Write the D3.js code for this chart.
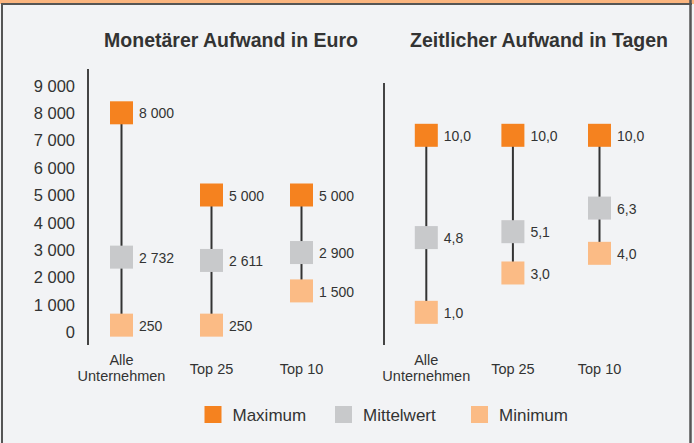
<!DOCTYPE html>
<html>
<head>
<meta charset="utf-8">
<script src="https://cdn.jsdelivr.net/npm/d3@7"></script>
<style>
  html, body { margin: 0; padding: 0; background: #f2f3f5; }
  svg { display: block; }
  text { font-family: "Liberation Sans", Arial, sans-serif; fill: #333; }
</style>
</head>
<body>
<svg id="chart" width="694" height="443"></svg>
<script>
// Daten
const categories = ['Alle Unternehmen', 'Top 25', 'Top 10']
const euroMax = [8000, 5000, 5000]
const euroMean = [2732, 2611, 2900]
const euroMin = [250, 250, 1500]
const daysMax = [10, 10, 10]
const daysMean = [4.8, 5.1, 6.3]
const daysMin = [1.0, 3.0, 4.0]
const euroTicks = [0, 1000, 2000, 3000, 4000, 5000, 6000, 7000, 8000, 9000]
const seriesNames = ['Maximum', 'Mittelwert', 'Minimum']
const seriesColors = ['#f5821f', '#c8c9cb', '#fbbb85']

const de = d3.formatLocale({ decimal: ',', thousands: '\u00a0', grouping: [3], currency: ['', ' €'] })
const fmtEuro = de.format(',d')
const fmtDays = de.format('.1f')

const svg = d3.select('#chart')
const W = 694, H = 443

// Rahmen
svg.append('rect').attr('width', W).attr('height', H).attr('fill', '#f2f3f5')
svg.append('rect').attr('x', 0).attr('y', 0).attr('width', W).attr('height', 4).attr('fill', '#fbb57f')
svg.append('line').attr('x1', 1).attr('x2', 692).attr('y1', 4).attr('y2', 4)
  .attr('stroke', '#555').attr('stroke-width', 2)
svg.append('line').attr('x1', 2).attr('x2', 2).attr('y1', 4).attr('y2', H)
  .attr('stroke', '#555').attr('stroke-width', 2)
svg.append('line').attr('x1', 690.5).attr('x2', 690.5).attr('y1', 0).attr('y2', H)
  .attr('stroke', '#555').attr('stroke-width', 2.5)

const yEuro = d3.scaleLinear().domain([0, 9000]).range([332, 85.4])
const yDays = d3.scaleLinear().domain([0, 10]).range([332, 135.3])
const xEuro = d3.scalePoint().domain(categories).range([121.5, 301.5])
const xDays = d3.scalePoint().domain(categories).range([426.3, 599.5])

const SQ = 23

function drawPanel(cfg) {
  const g = svg.append('g')

  g.append('text')
    .attr('x', cfg.titleX).attr('y', 47)
    .attr('text-anchor', 'middle')
    .style('font-size', '19.5px').style('font-weight', 'bold')
    .text(cfg.title)

  g.append('line')
    .attr('x1', cfg.axisX).attr('x2', cfg.axisX)
    .attr('y1', cfg.axisTop).attr('y2', 345)
    .attr('stroke', '#444').attr('stroke-width', 2)

  if (cfg.ticks) {
    const axis = d3.axisLeft(cfg.y).tickValues(cfg.ticks).tickFormat(fmtEuro)
      .tickSizeInner(0).tickSizeOuter(0).tickPadding(0)
    const ag = g.append('g').attr('transform', `translate(75,0)`).call(axis)
    ag.select('.domain').remove()
    ag.selectAll('text')
      .attr('dy', '0.35em')
      .style('font-family', '"Liberation Sans", Arial, sans-serif')
      .style('font-size', '16.5px').attr('fill', '#333')
  }

  const rows = categories.map((c, i) => ({
    cat: c,
    vals: [cfg.max[i], cfg.mean[i], cfg.min[i]],
  }))

  const grp = g.selectAll('g.cat').data(rows).enter().append('g').attr('class', 'cat')

  grp.append('line')
    .attr('x1', d => cfg.x(d.cat)).attr('x2', d => cfg.x(d.cat))
    .attr('y1', d => cfg.y(d.vals[0])).attr('y2', d => cfg.y(d.vals[2]))
    .attr('stroke', '#333').attr('stroke-width', 2)

  const pts = grp.selectAll('g.pt')
    .data(d => d.vals.map((v, k) => ({ cat: d.cat, v, k })))
    .enter().append('g').attr('class', 'pt')

  pts.append('rect')
    .attr('x', d => cfg.x(d.cat) - SQ / 2)
    .attr('y', d => cfg.y(d.v) - SQ / 2)
    .attr('width', SQ).attr('height', SQ)
    .attr('fill', d => seriesColors[d.k])

  pts.append('text')
    .attr('x', d => cfg.x(d.cat) + SQ / 2 + 6)
    .attr('y', d => cfg.y(d.v))
    .attr('dy', '0.4em')
    .style('font-size', '14px')
    .text(d => cfg.fmt(d.v))

  const lab = g.selectAll('text.cat').data(categories).enter().append('text')
    .attr('class', 'cat')
    .attr('text-anchor', 'middle')
    .style('font-size', '14.5px')
  lab.each(function (c) {
    const words = c === 'Alle Unternehmen' ? ['Alle', 'Unternehmen'] : [c]
    const t = d3.select(this)
    const y0 = words.length === 2 ? 365 : 374
    words.forEach((w, j) => {
      t.append('tspan').attr('x', cfg.x(c)).attr('y', y0 + j * 16).text(w)
    })
  })
}

drawPanel({
  title: 'Monetärer Aufwand in Euro', titleX: 231,
  axisX: 88, axisTop: 69,
  x: xEuro, y: yEuro, ticks: euroTicks, fmt: fmtEuro,
  max: euroMax, mean: euroMean, min: euroMin,
})

drawPanel({
  title: 'Zeitlicher Aufwand in Tagen', titleX: 539,
  axisX: 384, axisTop: 83,
  x: xDays, y: yDays, ticks: null, fmt: fmtDays,
  max: daysMax, mean: daysMean, min: daysMin,
})

// Legende
const legX = [204.5, 335, 471]
const leg = svg.append('g').selectAll('g').data(seriesNames).enter().append('g')
  .attr('transform', (d, i) => `translate(${legX[i]},406)`)
leg.append('rect').attr('width', 17).attr('height', 17)
  .attr('fill', (d, i) => seriesColors[i])
leg.append('text').attr('x', 28).attr('y', 8.5).attr('dy', '0.36em')
  .style('font-size', '17px').text(d => d)
</script>
</body>
</html>
